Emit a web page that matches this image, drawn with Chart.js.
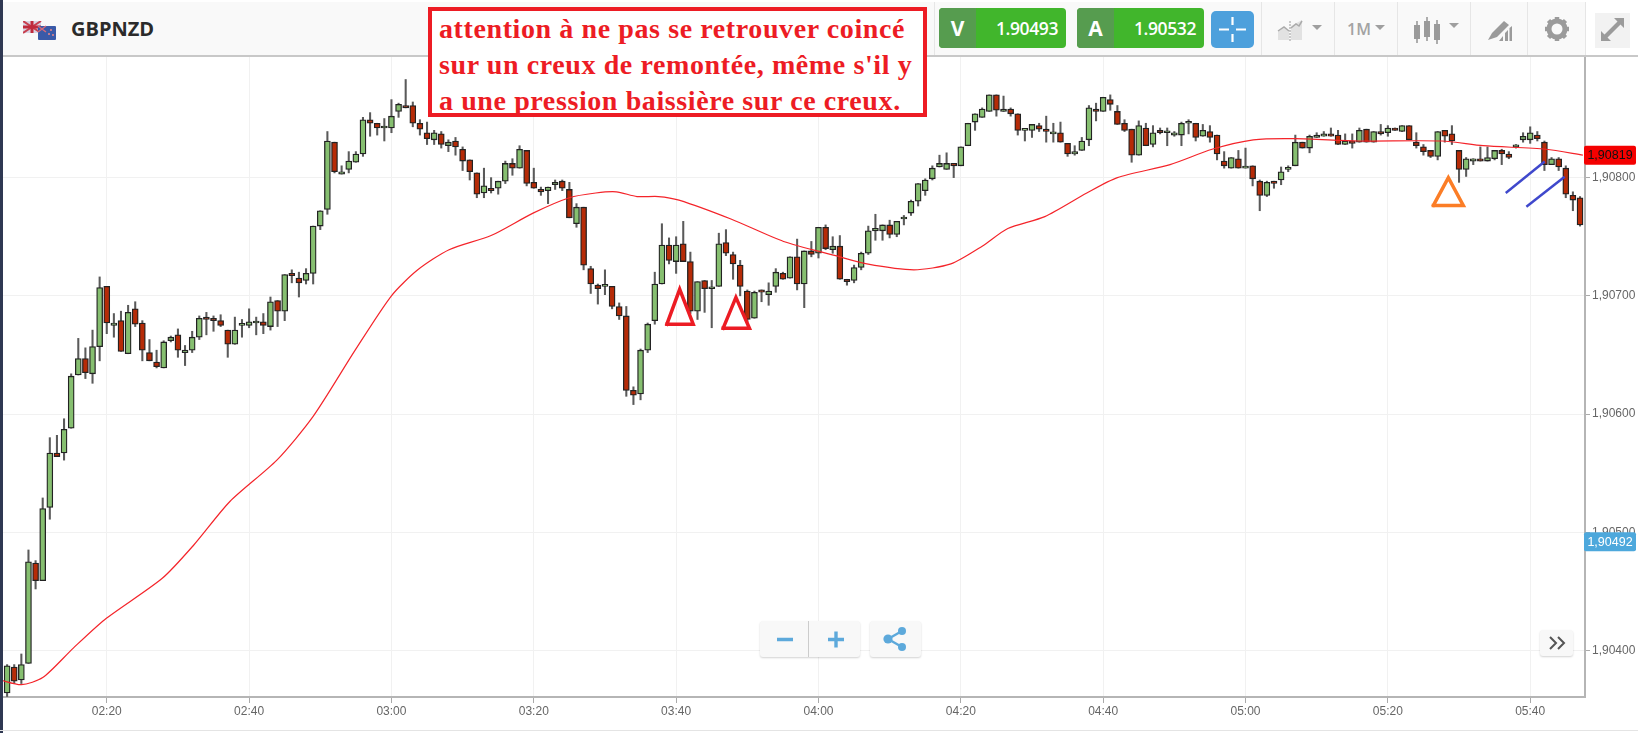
<!DOCTYPE html>
<html lang="fr">
<head>
<meta charset="utf-8">
<title>GBPNZD</title>
<script src="https://cdn.jsdelivr.net/npm/chart.js@4/dist/chart.umd.min.js"></script>
<style>
  html, body { margin: 0; padding: 0; background: #fff; width: 1638px; height: 733px; overflow: hidden; }
  #wrap { position: relative; width: 1638px; height: 733px; font-family: "Open Sans", "Noto Sans", sans-serif; }
  canvas { position: absolute; left: 0; top: 0; }
  .abs { position: absolute; box-sizing: border-box; }
  #strip { left: 0; top: 0; width: 3px; height: 733px; background: #2f3852; }
  #header { left: 3px; top: 2px; width: 1582px; height: 55px; background: #f9f9f9; border-bottom: 2px solid #c8c8c8; }
  #headerEnd { left: 1585px; top: 2px; width: 53px; height: 55px; background: #fff; border-bottom: 2px solid #c8c8c8; }
  .sep { top: 2px; width: 1px; height: 53px; background: #e6e6e6; }
  #symbol { left: 71px; top: 14px; font-size: 20px; font-weight: 700; color: #2b2b2b; line-height: 30px; }
  #note { left: 428px; top: 7px; width: 499px; height: 110px; background: #fff; border: 4px solid #ed1c24;
          color: #ed1c24; font: bold 28px/36px "Liberation Serif", serif; padding: 0 0 0 7px; white-space: nowrap; letter-spacing: .6px; }
  .quote { top: 8px; height: 40px; width: 127px; background: #41b62c; border-radius: 4px; color: #fff; overflow: hidden; }
  .quote b { position: absolute; left: 0; top: 0; width: 37px; height: 40px; background: #569c4f; text-align: center; font-size: 21px; line-height: 40px; }
  .quote span { position: absolute; right: 8px; top: 0; font-size: 17.5px; font-weight: 600; line-height: 40px; letter-spacing: -.4px; }
  #cross { left: 1211px; top: 11px; width: 43px; height: 37px; background: #4da0dc; border-radius: 5px; }
  #tf { left: 1347px; top: 16px; font-size: 16px; font-weight: 600; color: #a3a3a3; line-height: 26px; }
  .btn { background: #f8f8f8; box-shadow: 0 1px 2px rgba(0,0,0,.18); border-radius: 3px; }
</style>
</head>
<body>
<div id="wrap">
  <canvas id="priceChart" width="1638" height="733"></canvas>

  <div class="abs" id="strip"></div>
  <div class="abs" id="header"></div>
  <div class="abs" id="headerEnd"></div>
  <div class="abs sep" style="left:934px"></div>
  <div class="abs sep" style="left:1261px"></div>
  <div class="abs sep" style="left:1334px"></div>
  <div class="abs sep" style="left:1397px"></div>
  <div class="abs sep" style="left:1470px"></div>
  <div class="abs sep" style="left:1527px"></div>
  <div class="abs sep" style="left:1585px"></div>

  <!-- drapeaux -->
  <svg class="abs" style="left:23px;top:21px" width="33" height="19" viewBox="0 0 33 19">
    <rect x="0" y="0" width="18" height="12" fill="#d8d4e4"/>
    <path d="M0 0L18 12M18 0L0 12" stroke="#c8404f" stroke-width="2"/>
    <path d="M9 0V12M0 6H18" stroke="#c02a3c" stroke-width="3"/>
    <rect x="15" y="5" width="18" height="14" rx="1" fill="#3a5aa8"/>
    <path d="M15 5L23 11M23 5L15 11" stroke="#d86a78" stroke-width="1.5"/>
    <circle cx="28" cy="9" r="1" fill="#e88"/><circle cx="26" cy="13" r="1" fill="#e88"/><circle cx="30" cy="14" r="1" fill="#e88"/>
  </svg>
  <div class="abs" id="symbol">GBPNZD</div>

  <div class="abs" id="note">attention à ne pas se retrouver coincé<br>sur un creux de remontée, même s'il y<br>a une pression baissière sur ce creux.</div>

  <div class="abs quote" style="left:939px"><b>V</b><span>1.90493</span></div>
  <div class="abs quote" style="left:1077px"><b>A</b><span>1.90532</span></div>
  <div class="abs" id="cross">
    <svg width="43" height="37"><path d="M8 18.5H18M25 18.5H35M21.5 6V14M21.5 23V31" stroke="#fff" stroke-width="2.2"/></svg>
  </div>

  <!-- icones de la barre -->
  <svg class="abs" style="left:1276px;top:18px" width="50" height="24" fill="#bdbdbd">
    <path d="M2 22V13L8 9L13 13V22Z" fill="#e2e2e2"/><path d="M15 22V8L26 2V22Z" fill="#e2e2e2"/>
    <path d="M2 13L8 9L13 13M15 10L20 6L23 8L26 3" stroke="#aaa" stroke-width="1.5" fill="none"/>
    <path d="M14 3V23" stroke="#999" stroke-width="1" stroke-dasharray="2 1"/>
    <path d="M36 7H46L41 12Z" fill="#9f9f9f"/>
  </svg>
  <div class="abs" id="tf">1M</div>
  <svg class="abs" style="left:1374px;top:24px" width="12" height="8"><path d="M1 1H11L6 6Z" fill="#9f9f9f"/></svg>
  <svg class="abs" style="left:1413px;top:16px" width="50" height="30" fill="#9b9b9b">
    <rect x="1" y="9" width="6" height="14"/><rect x="3.2" y="5" width="1.6" height="22"/>
    <rect x="11" y="5" width="6" height="16"/><rect x="13.2" y="1" width="1.6" height="24"/>
    <rect x="21" y="8" width="6" height="16"/><rect x="23.2" y="4" width="1.6" height="24"/>
    <path d="M36 7H46L41 12Z" fill="#9f9f9f"/>
  </svg>
  <svg class="abs" style="left:1487px;top:19px" width="26" height="24" fill="#9b9b9b">
    <path d="M1 21L5 14L17 2L22 6L10 18Z"/><path d="M12 22L16 17V22ZM18 22V14L21 11V22ZM22.5 22V9L25 7V22Z"/>
  </svg>
  <svg class="abs" style="left:1544px;top:16px" width="26" height="26" viewBox="0 0 26 26">
    <circle cx="13" cy="13" r="8" fill="none" stroke="#9b9b9b" stroke-width="5"/>
    <path d="M13 1V5M13 21V25M1 13H5M21 13H25M4.5 4.5L7.5 7.5M18.5 18.5L21.5 21.5M21.5 4.5L18.5 7.5M7.5 18.5L4.5 21.5" stroke="#9b9b9b" stroke-width="4.5"/>
  </svg>
  <div class="abs" style="left:1595px;top:13px;width:35px;height:35px;background:#f2f2f2"></div>
  <svg class="abs" style="left:1600px;top:17px" width="25" height="25" fill="#9b9b9b">
    <path d="M14 1H24V11L20.5 7.5L7.5 20.5L11 24H1V14L4.5 17.5L17.5 4.5Z"/>
  </svg>

  <!-- boutons du bas -->
  <div class="abs btn" style="left:760px;top:621px;width:100px;height:36px"></div>
  <div class="abs" style="left:808px;top:621px;width:1px;height:36px;background:#ccc"></div>
  <svg class="abs" style="left:760px;top:621px" width="100" height="36">
    <path d="M17 18.5H33M68 18.5H84M76 10.5V26.5" stroke="#5da9db" stroke-width="3.4"/>
  </svg>
  <div class="abs btn" style="left:870px;top:621px;width:51px;height:36px"></div>
  <svg class="abs" style="left:870px;top:621px" width="51" height="36">
    <path d="M18 18L32 10M18 18L32 26" stroke="#5da9db" stroke-width="2.4"/>
    <circle cx="18" cy="18" r="4.6" fill="#5da9db"/><circle cx="32" cy="10" r="4" fill="#5da9db"/><circle cx="32" cy="26" r="4" fill="#5da9db"/>
  </svg>
  <div class="abs btn" style="left:1540px;top:630px;width:33px;height:26px"></div>
  <svg class="abs" style="left:1540px;top:630px" width="33" height="26">
    <path d="M10 7L16 13L10 19M18 7L24 13L18 19" stroke="#555" stroke-width="2" fill="none"/>
  </svg>

  <div class="abs" style="left:0;top:730px;width:1638px;height:1px;background:#e4e4e4"></div>
</div>

<script>
// Bougies 1 minute, prix en points : 800 = 1,90800
const base = 1.9;
const firstMinute = 126; // 02:06
const opens = [
  364,386,375,389,474,459,521,567,567,588,
  633,647,634,657,708,675,679,651,689,677,
  652,644,639,662,667,652,654,665,682,681,
  679,671,659,675,675,677,678,674,696,687,
  719,715,713,719,759,773,830,803,807,813,
  820,849,846,842,842,856,861,861,846,838,
  832,837,827,831,824,815,804,787,791,791,
  797,812,808,823,796,790,789,794,797,790,
  761,775,723,709,708,708,691,683,620,617,
  654,679,710,743,729,744,729,687,713,706,
  708,745,735,726,704,681,705,701,708,719,
  715,733,710,738,736,758,739,742,714,713,
  724,736,755,755,760,752,765,770,780,789,
  799,809,807,812,810,827,847,851,856,870,
  856,858,854,840,840,844,841,837,838,829,
  820,823,832,858,856,866,856,846,841,819,
  842,828,840,838,836,836,846,846,835,839,
  836,814,808,816,808,810,797,785,797,798,
  807,810,830,825,834,835,837,836,828,831,
  830,841,830,839,838,842,839,844,830,826,
  823,818,840,837,823,807,814,816,814,816,
  823,820,826,832,832,836,830,811,816,808,785,783
];
const closes = [
  387,374,388,475,459,520,567,564,587,632,
  647,635,657,707,677,677,653,686,676,654,
  645,640,661,665,654,654,665,681,680,679,
  675,659,671,675,678,677,675,695,687,718,
  717,711,719,759,772,831,805,805,814,820,
  849,846,842,842,852,862,859,846,841,833,
  838,828,830,826,814,805,786,793,789,797,
  812,808,824,795,791,788,792,796,791,766,
  775,726,710,706,708,691,683,620,616,654,
  676,710,743,730,743,729,687,712,706,707,
  744,736,727,708,680,703,703,704,720,714,
  733,710,738,735,758,740,742,714,712,724,
  736,755,757,760,752,763,766,780,795,798,
  808,812,812,810,826,846,854,858,870,857,
  858,854,840,840,845,841,839,837,830,820,
  822,831,859,856,868,862,845,840,819,844,
  827,838,838,838,838,846,847,834,840,834,
  820,810,817,808,808,799,785,796,795,805,
  807,830,825,835,836,837,835,828,831,829,
  840,830,839,837,842,840,844,832,827,822,
  818,839,835,831,807,816,816,814,817,823,
  820,817,826,835,838,833,811,816,809,786,781,760
];
const highs = [
  388,388,397,485,476,529,580,582,596,634,
  664,656,671,716,708,685,687,692,695,679,
  663,654,662,666,672,658,670,683,686,683,
  684,671,682,680,689,682,685,699,696,718,
  722,720,723,759,772,839,830,810,822,822,
  851,855,846,850,866,863,883,864,849,847,
  840,839,832,834,826,815,804,808,800,797,
  814,816,827,823,808,792,792,798,798,796,
  778,775,725,710,722,708,694,691,623,655,
  677,720,761,749,750,763,737,712,713,713,
  753,756,737,730,705,704,705,711,723,720,
  733,748,738,746,758,760,750,751,714,726,
  737,759,769,760,764,763,768,781,795,799,
  810,819,821,812,826,846,854,859,870,870,
  869,859,854,840,845,846,852,846,847,829,
  827,834,861,863,868,870,861,849,841,848,
  846,844,842,842,839,847,849,846,845,844,
  836,822,817,823,825,810,798,797,797,809,
  810,836,830,836,838,839,842,840,837,837,
  842,841,839,845,844,842,844,844,838,828,
  823,839,840,844,823,817,816,826,826,823,
  824,822,828,838,843,839,831,817,817,810,788,784
];
const lows = [
  361,372,372,389,452,459,511,564,561,588,
  633,630,626,645,668,665,653,651,674,645,
  645,639,639,661,648,641,652,663,667,670,
  674,648,659,665,673,667,668,671,674,679,
  711,699,710,710,756,769,804,803,804,813,
  818,835,836,831,838,851,859,843,836,828,
  828,825,822,819,806,798,783,783,787,786,
  795,802,808,793,791,785,778,790,789,766,
  758,722,702,693,701,689,680,615,608,612,
  652,676,710,727,719,729,685,680,686,673,
  708,734,714,700,678,681,695,692,703,714,
  715,705,690,733,732,739,736,714,709,711,
  722,735,747,747,749,750,760,768,776,785,
  798,809,807,800,810,827,840,851,856,852,
  856,852,836,831,834,839,830,830,830,818,
  819,823,827,848,856,857,845,839,813,819,
  827,826,837,827,835,827,837,831,835,830,
  815,808,808,808,808,793,772,784,791,794,
  805,810,825,821,834,835,835,828,828,825,
  830,830,830,836,835,840,839,832,825,819,
  817,815,830,828,796,801,811,814,814,815,
  811,816,825,830,829,831,806,811,806,783,772,759
];

// Moyenne mobile (minute, prix)
const maMinutes = [125,128,131,135.3,139.7,147.8,152.2,157.3,163.9,169,174.9,180,183.7,188.1,194,199.9,205,208.7,211.6,214.5,217.5,220.4,227.7,235.1,242.4,246.8,253.4,258.6,263,266.6,271.8,277.7,282,289.4,295.3,301.1,307,315.8,327.6,333.4,342.2,347.4];
const maValues = [375,371,377,402,426,461,489,526,561,598,654,700,722,739,751,770,783,787,788,784,784,781,765,746,734,727,722,727,742,757,767,787,800,811,824,832,833,831,831,827,824,819];

// Annotations dessinees sur le graphique
const redTriangleA = [[218.7,676],[220.5,705.5],[222.4,676],[218.7,676]];
const redTriangleB = [[226.6,672.5],[228.4,698.7],[230.3,672.5],[226.6,672.5]];
const orangeTriangle = [[326.4,776.5],[328.5,800],[330.6,776.5],[326.4,776.5]];
const blueLineA = [[336.7,787.6],[341.9,813]];
const blueLineB = [[339.6,776],[344.7,800]];

// Etiquettes de prix a droite
const priceTags = [
  { value: 819, text: '1,90819', bg: '#f40000', color: '#111' },
  { value: 492, text: '1,90492', bg: '#4da8dc', color: '#fff' }
];

const minutes = opens.map((_, i) => firstMinute + i);
const toPoints = pairs => pairs.map(p => ({ x: p[0], y: p[1] }));

// Etiquettes de prix : dessinees apres les bougies, a la position donnee par l'axe
const tagsPlugin = {
  id: 'priceTags',
  afterDraw(chart) {
    const c = chart.ctx, y = chart.scales.y;
    priceTags.forEach(tag => {
      const py = y.getPixelForValue(tag.value);
      c.save();
      c.fillStyle = tag.bg;
      c.beginPath();
      c.roundRect(1584, py - 9.5, 52, 19, 2);
      c.fill();
      c.fillStyle = tag.color;
      c.font = '12.5px "Liberation Sans"';
      c.textAlign = 'center';
      c.textBaseline = 'middle';
      c.fillText(tag.text, 1610, py + 0.5);
      c.restore();
    });
  }
};

const overlay = (pairs, color, width) => ({
  type: 'line',
  data: toPoints(pairs),
  borderColor: color,
  borderWidth: width,
  pointRadius: 0,
  tension: 0,
  borderJoinStyle: 'miter',
  borderCapStyle: 'square'
});

const ctx = document.getElementById('priceChart').getContext('2d');
new Chart(ctx, {
  type: 'bar',
  data: {
    datasets: [
      overlay(redTriangleA, '#ec1c24', 3.5),
      overlay(redTriangleB, '#ec1c24', 3.5),
      overlay(orangeTriangle, '#fb7d26', 3.5),
      overlay(blueLineA, '#3f48cc', 2.5),
      overlay(blueLineB, '#3f48cc', 2.5),
      {
        type: 'line',
        data: maMinutes.map((m, i) => ({ x: m, y: maValues[i] })),
        borderColor: '#f4242a',
        borderWidth: 1.2,
        pointRadius: 0,
        tension: 0.25
      },
      {
        // corps des bougies
        data: minutes.map((m, i) => ({ x: m, y: [opens[i], closes[i]] })),
        backgroundColor: opens.map((o, i) => closes[i] >= o ? '#86bf70' : '#b62b07'),
        borderColor: '#222',
        borderWidth: 1.3,
        borderSkipped: false,
        barThickness: 6,
        minBarLength: 2,
        grouped: false
      },
      {
        // meches
        data: minutes.map((m, i) => ({ x: m, y: [lows[i], highs[i]] })),
        backgroundColor: '#5a5a5a',
        borderWidth: 0,
        barThickness: 1.4,
        grouped: false
      }
    ]
  },
  options: {
    responsive: false,
    animation: false,
    events: [],
    layout: { padding: { top: 56, left: 0, right: 0, bottom: 0 } },
    plugins: { legend: { display: false }, tooltip: { enabled: false } },
    scales: {
      x: {
        type: 'linear',
        offset: false,
        min: 125,
        max: 347.7,
        afterFit: s => { s.height = 36; },
        afterBuildTicks: s => { s.ticks = s.ticks.filter(t => t.value % 20 === 0); },
        border: { color: '#b5b5b5', width: 2 },
        grid: { offset: false, color: '#f1f1f1', tickColor: '#aaa', tickLength: 6 },
        ticks: {
          stepSize: 20,
          includeBounds: false,
          autoSkip: false,
          maxRotation: 0,
          padding: 1,
          color: '#666',
          font: { family: '"Liberation Sans"', size: 12 },
          callback: v => {
            const h = Math.floor(v / 60), m = v % 60;
            return String(h).padStart(2, '0') + ':' + String(m).padStart(2, '0');
          }
        }
      },
      y: {
        position: 'right',
        min: 360.6,
        max: 902.9,
        afterFit: s => { s.width = 53; },
        afterBuildTicks: s => { s.ticks = s.ticks.filter(t => t.value % 100 === 0 && t.value <= 800); },
        border: { color: '#b5b5b5', width: 2 },
        grid: { color: '#f1f1f1', tickColor: '#aaa', tickLength: 5 },
        ticks: {
          stepSize: 100,
          includeBounds: false,
          padding: 2,
          color: '#666',
          font: { family: '"Liberation Sans"', size: 12 },
          callback: v => (base + v / 1e5).toFixed(5).replace('.', ',')
        }
      }
    }
  },
  plugins: [tagsPlugin]
});
</script>
</body>
</html>
